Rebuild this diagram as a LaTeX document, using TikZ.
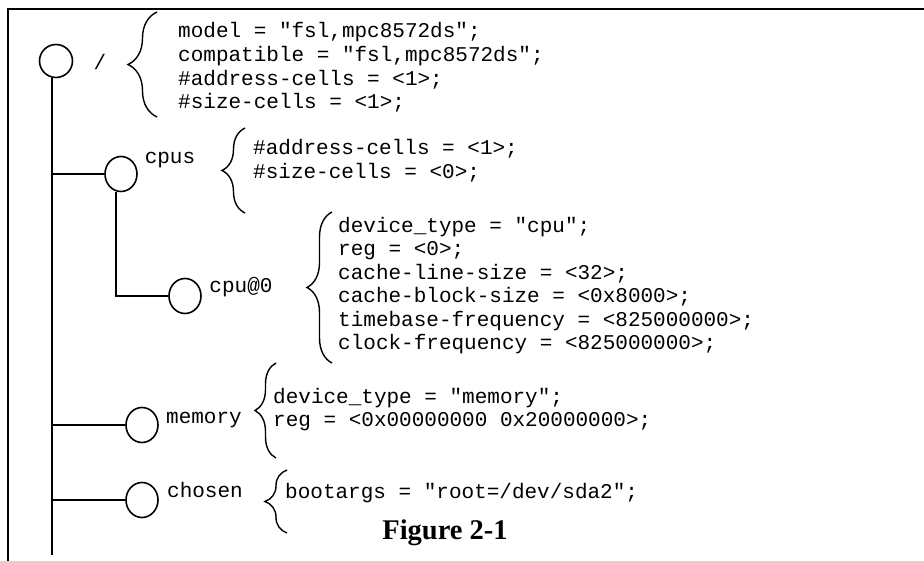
\documentclass[tikz,border=0pt]{standalone}
\usepackage{fontspec}
\setmainfont{Liberation Serif}
\newfontfamily\codefont{Liberation Mono}
\usetikzlibrary{shapes.geometric,decorations.pathreplacing}

\begin{document}
\begin{tikzpicture}[x=1pt,y=-1pt,
  tree/.style={line width=1.6pt},
  dtnode/.style={draw,ellipse,line width=1.6pt,minimum width=32pt,minimum height=35pt,inner sep=0pt},
  dtname/.style={font=\codefont\fontsize{21}{23.6}\selectfont,anchor=base,inner sep=0pt},
  props/.style={font=\codefont\fontsize{21}{23.6}\selectfont,align=left,anchor=base west,inner sep=0pt},
  curly/.style={decorate,decoration={brace,amplitude=#1},line width=1.4pt}]
  \useasboundingbox (0,0) rectangle (924,561);
  \draw[line width=2.4pt] (924,9) -- (8,9) -- (8,561);
  \node[dtnode,minimum width=33pt,minimum height=33pt] (root) at (56,61) {};
  \node[dtnode] (cpus) at (121,174) {};
  \node[dtnode] (cpu0) at (185,296) {};
  \node[dtnode] (memory) at (142,425) {};
  \node[dtnode] (chosen) at (142,500) {};
  \node[dtname] (rootname) at (100,70) {/};
  \node[dtname] (cpusname) at (170,164) {cpus};
  \node[dtname] (cpu0name) at (241,293) {cpu@0};
  \node[dtname] (memoryname) at (204,423) {memory};
  \node[dtname] (chosenname) at (205,497) {chosen};
  \coordinate (trunkend) at (52,555);
  \draw[tree] (root.-104) -- (root.-104 |- trunkend);
  \draw[tree] (root.-104 |- cpus.west) -- (cpus.west);
  \draw[tree] (cpus.-105) |- (cpu0.west);
  \draw[tree] (root.-104 |- memory.west) -- (memory.west);
  \draw[tree] (root.-104 |- chosen.west) -- (chosen.west);
  \draw[curly=29] (157,117) -- (157,12);
  \draw[curly=23] (245,213) -- (245,128);
  \draw[curly=25] (332,363) -- (332,212);
  \draw[curly=21] (276,458) -- (276,363);
  \draw[curly=22] (287,533) -- (287,470);
  \node[props] (rootprops) at (178,108.8) {model = "fsl,mpc8572ds";\\compatible = "fsl,mpc8572ds";\\\#address-cells = <1>;\\\#size-cells = <1>;};
  \node[props] (cpusprops) at (253,178.6) {\#address-cells = <1>;\\\#size-cells = <0>;};
  \node[props] (cpu0props) at (338,350) {device\_type = "cpu";\\reg = <0>;\\cache-line-size = <32>;\\cache-block-size = <0x8000>;\\timebase-frequency = <825000000>;\\clock-frequency = <825000000>;};
  \node[props] (memoryprops) at (273,426.6) {device\_type = "memory";\\reg = <0x00000000 0x20000000>;};
  \node[props] (chosenprops) at (285,498) {bootargs = "root=/dev/sda2";};
  \node[font=\bfseries\fontsize{28.5}{30}\selectfont,anchor=base,inner sep=0pt] (caption) at (445,539) {Figure 2-1};
\end{tikzpicture}
\end{document}
